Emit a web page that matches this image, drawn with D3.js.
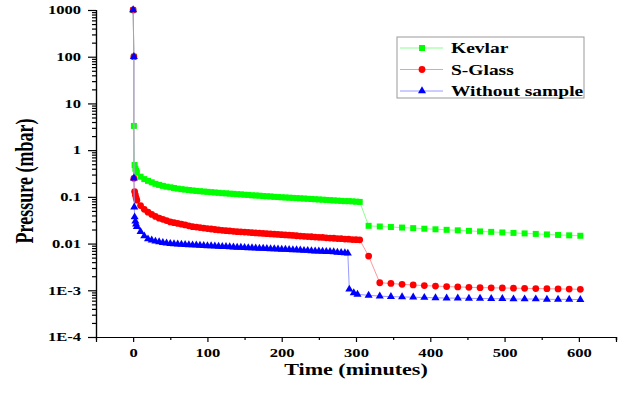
<!DOCTYPE html>
<html>
<head>
<meta charset="utf-8">
<script src="https://cdn.jsdelivr.net/npm/d3@7"></script>
<style>
  body { margin: 0; background: #fff; }
  svg { display: block; font-family: "Liberation Serif", "Times New Roman", serif; font-weight: bold; }
  .axis path, .axis line { stroke: #000; stroke-width: 1.2; }
  .axis text { font-family: "Liberation Serif", "Times New Roman", serif; font-weight: bold; font-size: 12px; fill: #000; }
</style>
</head>
<body>
<div id="chart-area"><svg></svg></div>
<script>
const CHART_SIZE = { width: 627, height: 396 };
const MARGIN = { left: 96, right: 11, top: 10, bottom: 59 };
const WIDTH = CHART_SIZE.width - (MARGIN.left + MARGIN.right);
const HEIGHT = CHART_SIZE.height - (MARGIN.top + MARGIN.bottom);
// the source picture is stretched sideways, so text is widened to match
const STRETCH = 1.38;

const xTicks = [0, 100, 200, 300, 400, 500, 600];
const yTicks = [1000, 100, 10, 1, 0.1, 0.01, 0.001, 0.0001];
const yTickLabels = ["1000", "100", "10", "1", "0.1", "0.01", "1E-3", "1E-4"];
const seriesNames = ["Kevlar", "S-Glass", "Without sample"];

const kevlarTime = [0, 1, 1, 2, 3, 4,
  5, 10, 15, 20, 25, 30, 35, 40, 45, 50, 55, 60, 65, 70, 75, 80, 85, 90, 95, 100,
  105, 110, 115, 120, 125, 130, 135, 140, 145, 150, 155, 160, 165, 170, 175, 180, 185, 190, 195, 200,
  205, 210, 215, 220, 225, 230, 235, 240, 245, 250, 255, 260, 265, 270, 275, 280, 285, 290, 295, 300, 305,
  317, 332, 347, 362, 377, 392, 407, 422, 437, 452, 467, 482, 497, 512, 527, 542, 557, 572, 587, 602];
const kevlarPressure = [1000, 100, 3.3, 0.48, 0.4, 0.36,
  0.33, 0.27, 0.24, 0.22, 0.205, 0.19, 0.18, 0.172, 0.165, 0.16,
  0.155, 0.15, 0.146, 0.143, 0.14, 0.137, 0.134, 0.132, 0.13, 0.128,
  0.126, 0.124, 0.122, 0.12, 0.119, 0.117, 0.116, 0.114, 0.113, 0.111,
  0.11, 0.108, 0.107, 0.106, 0.104, 0.103, 0.102, 0.1, 0.099, 0.098,
  0.097, 0.096, 0.095, 0.094, 0.093, 0.092, 0.091, 0.09, 0.089, 0.088,
  0.087, 0.086, 0.085, 0.084, 0.083, 0.082, 0.081, 0.081, 0.08, 0.079, 0.078,
  0.024, 0.0232, 0.0226, 0.022, 0.0214, 0.0208, 0.0202, 0.0197, 0.0192, 0.0187,
  0.0182, 0.0178, 0.0173, 0.0169, 0.0165, 0.0161, 0.0157, 0.0153, 0.015, 0.0147];

const sGlassTime = [0, 1, 1, 2, 3, 4,
  5, 10, 15, 20, 25, 30, 35, 40, 45, 50, 55, 60, 65, 70, 75, 80, 85, 90, 95, 100,
  105, 110, 115, 120, 125, 130, 135, 140, 145, 150, 155, 160, 165, 170, 175, 180, 185, 190, 195, 200,
  205, 210, 215, 220, 225, 230, 235, 240, 245, 250, 255, 260, 265, 270, 275, 280, 285, 290, 295, 300, 305,
  317, 332, 347, 362, 377, 392, 407, 422, 437, 452, 467, 482, 497, 512, 527, 542, 557, 572, 587, 602];
const sGlassPressure = [1000, 100, 0.25, 0.13, 0.11, 0.095,
  0.085, 0.065, 0.054, 0.047, 0.042, 0.038, 0.035, 0.033, 0.031, 0.029,
  0.028, 0.027, 0.026, 0.025, 0.024, 0.023, 0.0225, 0.022, 0.0215, 0.021,
  0.0205, 0.02, 0.0196, 0.0192, 0.0189, 0.0186, 0.0183, 0.018, 0.0178, 0.0176,
  0.0174, 0.0171, 0.0169, 0.0167, 0.0165, 0.0163, 0.0161, 0.0159, 0.0157, 0.0155,
  0.0153, 0.0151, 0.0149, 0.0147, 0.0145, 0.0143, 0.0141, 0.014, 0.0138, 0.0136,
  0.0135, 0.0133, 0.0131, 0.013, 0.0128, 0.0127, 0.0125, 0.0124, 0.0122, 0.0121, 0.012,
  0.0054, 0.00145, 0.0014, 0.00134, 0.0013, 0.00126, 0.00123, 0.0012, 0.00118, 0.00116,
  0.00114, 0.00113, 0.00112, 0.00111, 0.0011, 0.00109, 0.00108, 0.00107, 0.00106, 0.00105];

const emptyTime = [0, 1, 1, 1.5, 2, 3, 4,
  5, 10, 15, 20, 25, 30, 35, 40, 45, 50, 55, 60, 65, 70, 75, 80, 85, 90, 95, 100,
  105, 110, 115, 120, 125, 130, 135, 140, 145, 150, 155, 160, 165, 170, 175, 180, 185, 190, 195, 200,
  205, 210, 215, 220, 225, 230, 235, 240, 245, 250, 255, 260, 265, 270, 275, 280, 285,
  289, 291, 297, 302,
  317, 332, 347, 362, 377, 392, 407, 422, 437, 452, 467, 482, 497, 512, 527, 542, 557, 572, 587, 602];
const emptyPressure = [1000, 100, 0.25, 0.06, 0.037, 0.03, 0.026,
  0.023, 0.018, 0.0145, 0.0125, 0.0118, 0.0112, 0.0108, 0.0105, 0.0102, 0.01,
  0.0098, 0.0097, 0.0096, 0.0095, 0.0094, 0.0093, 0.0092, 0.0091, 0.009, 0.0089,
  0.0089, 0.0088, 0.0087, 0.0086, 0.0086, 0.0085, 0.0084, 0.0083, 0.0083, 0.0082,
  0.0081, 0.0081, 0.008, 0.0079, 0.0079, 0.0078, 0.0077, 0.0077, 0.0076, 0.0075,
  0.0075, 0.0074, 0.0073, 0.0073, 0.0072, 0.0071, 0.0071, 0.007, 0.0069, 0.0069,
  0.0068, 0.0067, 0.0067, 0.0066, 0.0065, 0.0064, 0.0063,
  0.0062, 0.00105, 0.00088, 0.00082,
  0.00078, 0.00075, 0.00073, 0.00072, 0.00071, 0.0007, 0.00069, 0.00068, 0.00068, 0.00067,
  0.00067, 0.00066, 0.00066, 0.00065, 0.00065, 0.00065, 0.00064, 0.00064, 0.00064, 0.00063];

const STYLES = [
  { line: "#8cff8c", fill: "#00ff00", symbol: d3.symbolSquare, size: 36 },
  { line: "#ff9a9a", fill: "#ff0000", symbol: d3.symbolCircle, size: 36 },
  { line: "#9a9aff", fill: "#0000ff", symbol: d3.symbolTriangle, size: 28 }
];

const x = d3.scaleLinear().domain([-50, 650]).range([0, WIDTH]);
const y = d3.scaleLog().domain([0.0001, 1000]).range([HEIGHT, 0]);

const init = () => {
  const svg = d3
    .select("#chart-area svg")
    .attr("width", CHART_SIZE.width)
    .attr("height", CHART_SIZE.height);

  const g = svg
    .append("g")
    .attr("class", "plot")
    .attr("transform", `translate(${MARGIN.left},${MARGIN.top})`);

  // minor ticks first, then the labelled ones
  const yMinor = y.ticks().filter(v => !yTicks.includes(v));
  g.append("g")
    .attr("class", "axis")
    .call(d3.axisLeft(y).tickValues(yMinor).tickSize(4).tickFormat(""));
  g.append("g")
    .attr("class", "axis y-axis")
    .call(
      d3.axisLeft(y)
        .tickValues(yTicks)
        .tickSize(8)
        .tickFormat((d, i) => yTickLabels[i])
    );
  g.selectAll(".y-axis .tick text")
    .attr("x", -15 / STRETCH)
    .attr("transform", `scale(${STRETCH},1)`);

  const xMinor = [50, 150, 250, 350, 450, 550, 650];
  g.append("g")
    .attr("class", "axis")
    .attr("transform", `translate(0,${HEIGHT})`)
    .call(d3.axisBottom(x).tickValues(xMinor).tickSize(3).tickFormat(""));
  g.append("g")
    .attr("class", "axis x-axis")
    .attr("transform", `translate(0,${HEIGHT})`)
    .call(d3.axisBottom(x).tickValues(xTicks).tickSize(5).tickPadding(6));
  g.selectAll(".x-axis .tick text").attr("transform", `scale(${STRETCH},1)`);

  g.selectAll(".axis path.domain").attr("stroke-width", 1.4);

  svg.append("text")
    .attr("transform", `translate(${MARGIN.left + x(300)},375) scale(${STRETCH},1)`)
    .attr("text-anchor", "middle")
    .attr("font-size", 16)
    .text("Time (minutes)");

  svg.append("text")
    .attr("transform", `translate(33,181) rotate(-90) scale(1,${STRETCH})`)
    .attr("text-anchor", "middle")
    .attr("font-size", 18)
    .text("Pressure (mbar)");

  return g;
};

const drawSeries = (g, times, values, style) => {
  const pts = times.map((t, i) => [t, values[i]]);
  const line = d3.line().x(d => x(d[0])).y(d => y(d[1]));

  g.append("path")
    .attr("d", line(pts))
    .attr("fill", "none")
    .attr("stroke", style.line)
    .attr("stroke-width", 1);

  g.append("g")
    .selectAll("path")
    .data(pts)
    .join("path")
    .attr("transform", d => `translate(${x(d[0])},${y(d[1])})`)
    .attr("d", d3.symbol(style.symbol, style.size))
    .attr("fill", style.fill);
};

const drawLegend = svg => {
  const lg = svg.append("g").attr("transform", "translate(397,37)");
  lg.append("rect")
    .attr("width", 187)
    .attr("height", 61)
    .attr("fill", "#fff")
    .attr("stroke", "#999")
    .attr("stroke-width", 1);

  seriesNames.forEach((name, i) => {
    const row = lg.append("g").attr("transform", `translate(0,${11 + i * 21.5})`);
    row.append("line")
      .attr("x1", 3).attr("x2", 46)
      .attr("stroke", STYLES[i].line)
      .attr("stroke-width", 1);
    row.append("path")
      .attr("transform", "translate(25,0)")
      .attr("d", d3.symbol(STYLES[i].symbol, STYLES[i].size))
      .attr("fill", STYLES[i].fill);
    row.append("text")
      .attr("transform", `translate(54,5) scale(1.3,1)`)
      .attr("font-size", 15)
      .text(name);
  });
};

const main = () => {
  const g = init();
  drawSeries(g, kevlarTime, kevlarPressure, STYLES[0]);
  drawSeries(g, sGlassTime, sGlassPressure, STYLES[1]);
  drawSeries(g, emptyTime, emptyPressure, STYLES[2]);
  drawLegend(d3.select("#chart-area svg"));
};

window.onload = main;
</script>
</body>
</html>
